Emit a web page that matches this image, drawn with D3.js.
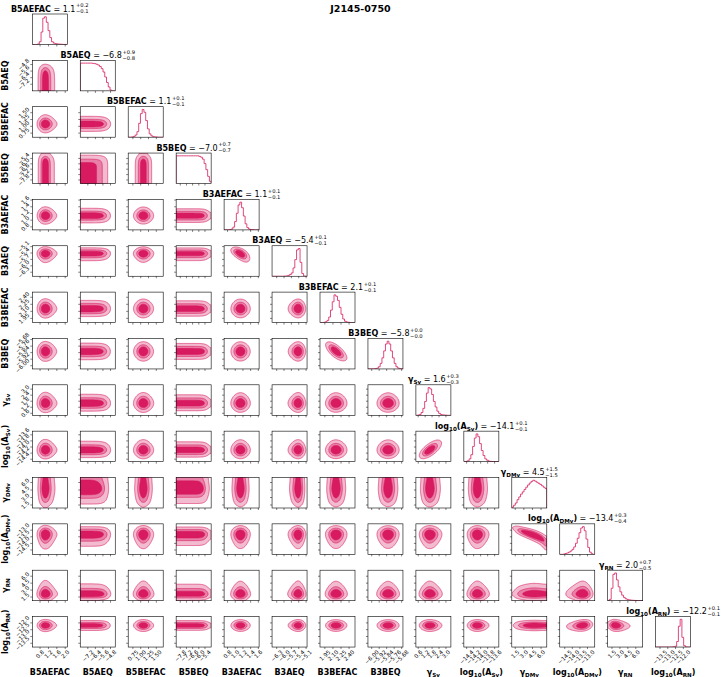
<!DOCTYPE html>
<html>
<head>
<meta charset="utf-8">
<script src="https://cdn.jsdelivr.net/npm/d3@7"></script>
<style>
  body { margin: 0; background: #fff; }
  text { font-family: "DejaVu Sans", sans-serif; }
</style>
</head>
<body>
<div id="chart"></div>
<script>
// --------------------------------------------------------
// DATA
// --------------------------------------------------------
const pulsar = "J2145-0750";

const labels = ["B5AEFAC", "B5AEQ", "B5BEFAC", "B5BEQ", "B3AEFAC", "B3AEQ", "B3BEFAC", "B3BEQ",
  "γ_{Sv}", "log_{10}(A_{Sv})", "γ_{DMv}", "log_{10}(A_{DMv})", "γ_{RN}", "log_{10}(A_{RN})"];

const medians  = [1.1, -6.8, 1.1, -7.0, 1.1, -5.4, 2.1, -5.8, 1.6, -14.1, 4.5, -13.4, 2.0, -12.2];
const errPlus  = [0.2, 0.9, 0.1, 0.7, 0.1, 0.1, 0.1, 0.0, 0.3, 0.1, 1.5, 0.3, 0.7, 0.1];
const errMinus = [0.1, 0.8, 0.1, 0.7, 0.1, 0.1, 0.1, 0.0, 0.3, 0.1, 1.5, 0.4, 0.5, 0.1];

// axis ranges of each parameter
const ranges = [[0.43, 2.1], [-8.0, -4.3], [0.6, 1.72], [-8.2, -4.8], [0.71, 1.62], [-6.49, -5.06],
  [1.86, 2.51], [-6.04, -5.666], [0.4, 3.43], [-14.48, -13.48], [0.9, 7.0], [-14.83, -12.52],
  [0.7, 7.3], [-13.78, -11.53]];

const ticks = [
  [0.8, 1.2, 1.6, 2.0],
  [-7.2, -6.4, -5.6, -4.8],
  [0.75, 1.0, 1.25, 1.5],
  [-7.8, -7.2, -6.6, -6.0, -5.4],
  [0.8, 1.0, 1.2, 1.4, 1.6],
  [-6.3, -6.0, -5.7, -5.4, -5.1],
  [1.95, 2.10, 2.25, 2.40],
  [-6.00, -5.92, -5.84, -5.76, -5.68],
  [0.6, 1.2, 1.8, 2.4, 3.0],
  [-14.4, -14.2, -14.0, -13.8, -13.6],
  [1.5, 3.0, 4.5, 6.0],
  [-14.5, -14.0, -13.5, -13.0],
  [1.5, 3.0, 4.5, 6.0],
  [-13.5, -13.0, -12.5, -12.0]
];
const tickDigits = [1, 1, 2, 1, 1, 1, 2, 2, 1, 1, 1, 1, 1, 1];

// 20-bin marginal histograms (relative heights)
const hist = [
  [0, 0, 0, 0.02, 0.1, 0.45, 0.95, 1.0, 0.8, 0.5, 0.25, 0.1, 0.05, 0.03, 0.02, 0.015, 0.01, 0.005, 0.003, 0.002],
  [1, 1, 1, 1, 1, 1, 1, 0.99, 0.98, 0.96, 0.93, 0.88, 0.8, 0.68, 0.5, 0.3, 0.14, 0.03, 0, 0],
  [0, 0, 0.01, 0.03, 0.08, 0.2, 0.5, 0.85, 1.0, 0.9, 0.6, 0.3, 0.12, 0.05, 0.02, 0.01, 0.005, 0, 0, 0],
  [1, 1, 1, 1, 1, 1, 1, 1, 1, 1, 1, 1, 1, 0.98, 0.95, 0.88, 0.72, 0.5, 0.26, 0.08],
  [0, 0, 0, 0.01, 0.03, 0.1, 0.3, 0.6, 0.9, 1.0, 0.8, 0.5, 0.22, 0.08, 0.03, 0.01, 0.005, 0, 0, 0],
  [0, 0, 0, 0, 0, 0, 0, 0.005, 0.01, 0.03, 0.06, 0.12, 0.3, 0.6, 0.95, 1.0, 0.5, 0.1, 0.01, 0],
  [0, 0, 0.01, 0.03, 0.08, 0.2, 0.45, 0.75, 1.0, 0.95, 0.8, 0.55, 0.3, 0.13, 0.05, 0.02, 0.01, 0, 0, 0],
  [0, 0, 0, 0, 0.01, 0.03, 0.08, 0.2, 0.4, 0.65, 0.9, 1.0, 0.9, 0.65, 0.4, 0.2, 0.08, 0.03, 0.01, 0],
  [0, 0.01, 0.03, 0.1, 0.25, 0.5, 0.8, 1.0, 0.95, 0.75, 0.5, 0.3, 0.15, 0.07, 0.03, 0.015, 0.01, 0.005, 0, 0],
  [0, 0.01, 0.03, 0.1, 0.25, 0.55, 0.85, 1.0, 0.9, 0.65, 0.4, 0.22, 0.1, 0.05, 0.02, 0.01, 0.005, 0, 0, 0],
  [0.03, 0.1, 0.18, 0.3, 0.4, 0.5, 0.58, 0.67, 0.75, 0.83, 0.9, 0.96, 1.0, 0.97, 0.93, 0.89, 0.85, 0.8, 0.75, 0.7],
  [0, 0, 0.01, 0.03, 0.05, 0.08, 0.12, 0.18, 0.27, 0.4, 0.58, 0.78, 0.95, 1.0, 0.85, 0.55, 0.25, 0.08, 0.02, 0],
  [0, 0.05, 0.45, 0.95, 1.0, 0.75, 0.5, 0.32, 0.2, 0.12, 0.07, 0.045, 0.03, 0.02, 0.015, 0.01, 0.008, 0.005, 0.003, 0.002],
  [0, 0, 0, 0, 0, 0, 0, 0, 0, 0.003, 0.01, 0.03, 0.2, 0.75, 1.0, 0.35, 0.05, 0.005, 0, 0]
];

// visible correlations between parameter pairs [i, j, rho]
const correlations = [[4, 5, -0.8], [6, 7, -0.85], [8, 9, 0.85], [10, 11, -0.9], [11, 13, 0.3], [12, 13, -0.2]];

// --------------------------------------------------------
// LAYOUT
// --------------------------------------------------------
const width = 721, height = 677;
const gridLeft = 32.3, gridTop = 14, colStep = 47.95, rowStep = 46.35, pw = 35, ph = 30.5;
const color = "#d81b60";
const masses = [0.95, 0.76, 0.5];      // enclosed probability of each filled level
const fills = [0.3, 0.56, 1.0];
const nP = labels.length;
const N = 50;

const svg = d3.select("#chart").append("svg")
  .attr("width", width).attr("height", height);

svg.append("text")
  .attr("x", 360.5).attr("y", 11.5)
  .attr("text-anchor", "middle")
  .attr("font-weight", "bold").attr("font-size", 9.5)
  .text(pulsar);

// --------------------------------------------------------
// HELPERS
// --------------------------------------------------------
function invNorm(p) {
  const a = [-3.969683028665376e+01, 2.209460984245205e+02, -2.759285104469687e+02, 1.383577518672690e+02, -3.066479806614716e+01, 2.506628277459239e+00];
  const b = [-5.447609879822406e+01, 1.615858368580409e+02, -1.556989798598866e+02, 6.680131188771972e+01, -1.328068155288572e+01];
  const c = [-7.784894002430293e-03, -3.223964580411365e-01, -2.400758277161838e+00, -2.549732539343734e+00, 4.374664141464968e+00, 2.938163982698783e+00];
  const d = [7.784695709041462e-03, 3.224671290700398e-01, 2.445134137142996e+00, 3.754408661907416e+00];
  const pl = 0.02425;
  if (p < pl) {
    const q = Math.sqrt(-2 * Math.log(p));
    return (((((c[0] * q + c[1]) * q + c[2]) * q + c[3]) * q + c[4]) * q + c[5]) / ((((d[0] * q + d[1]) * q + d[2]) * q + d[3]) * q + 1);
  }
  if (p > 1 - pl) {
    const q = Math.sqrt(-2 * Math.log(1 - p));
    return -(((((c[0] * q + c[1]) * q + c[2]) * q + c[3]) * q + c[4]) * q + c[5]) / ((((d[0] * q + d[1]) * q + d[2]) * q + d[3]) * q + 1);
  }
  const q = p - 0.5, r = q * q;
  return (((((a[0] * r + a[1]) * r + a[2]) * r + a[3]) * r + a[4]) * r + a[5]) * q / (((((b[0] * r + b[1]) * r + b[2]) * r + b[3]) * r + b[4]) * r + 1);
}

// marginal density on the grid, from the histogram bins
function gridInfo(k) {
  const [lo, hi] = ranges[k];
  const h = hist[k], nb = h.length, bw = (hi - lo) / nb;
  const dens = d3.range(N).map(a => {
    const x = lo + (a + 0.5) / N * (hi - lo);
    const t = (x - lo) / bw - 0.5;
    const i = Math.floor(t), f = t - i;
    const v0 = h[Math.max(0, Math.min(nb - 1, i))];
    const v1 = h[Math.max(0, Math.min(nb - 1, i + 1))];
    return v0 + (v1 - v0) * f;
  });
  const tot = d3.sum(dens);
  let cum = 0;
  const z = dens.map(d => {
    const F = (cum + d / 2) / tot;
    cum += d;
    return invNorm(Math.min(0.998, Math.max(0.002, F)));
  });
  return { dens, z };
}
const grids = d3.range(nP).map(gridInfo);

function rhoOf(i, j) {
  const c = correlations.find(r => (r[0] === i && r[1] === j) || (r[0] === j && r[1] === i));
  return c ? c[2] : 0;
}

function blur(v, n, passes) {
  let a = Float64Array.from(v);
  const b = new Float64Array(n * n);
  for (let p = 0; p < passes; p++) {
    for (let y = 0; y < n; y++) for (let x = 0; x < n; x++) {
      let s = 0, c = 0;
      for (let d = -1; d <= 1; d++) { const xx = x + d; if (xx >= 0 && xx < n) { s += a[y * n + xx]; c++; } }
      b[y * n + x] = s / c;
    }
    for (let y = 0; y < n; y++) for (let x = 0; x < n; x++) {
      let s = 0, c = 0;
      for (let d = -1; d <= 1; d++) { const yy = y + d; if (yy >= 0 && yy < n) { s += b[yy * n + x]; c++; } }
      a[y * n + x] = s / c;
    }
  }
  // round off float noise so flat plateaus stay flat
  return a.map(x => Math.round(x * 1e9) / 1e9);
}

// text with _{..} subscripts; returns true if it ends shifted down
function richText(sel, str, size) {
  const parts = str.split(/(_\{[^}]*\})/).filter(s => s);
  let shifted = false;
  parts.forEach(p => {
    if (p.startsWith("_{")) {
      sel.append("tspan").attr("font-size", size * 0.7).attr("dy", size * 0.25).text(p.slice(2, -1));
      shifted = true;
    } else {
      const t = sel.append("tspan").attr("font-size", size);
      if (shifted) { t.attr("dy", -size * 0.25); shifted = false; }
      t.text(p);
    }
  });
  return shifted;
}

const fmt1 = d3.format(".1f");
const fmtPlus = d3.format("+.1f");
const tickFont = 5.6;

// --------------------------------------------------------
// PANELS
// --------------------------------------------------------
for (let i = 0; i < nP; i++) {
  for (let j = 0; j <= i; j++) {
    const x0 = gridLeft + j * colStep, y0 = gridTop + i * rowStep;
    const xs = d3.scaleLinear().domain(ranges[j]).range([x0, x0 + pw]);
    const g = svg.append("g");
    const clipId = "clip-" + i + "-" + j;
    g.append("clipPath").attr("id", clipId)
      .append("rect").attr("x", x0).attr("y", y0).attr("width", pw).attr("height", ph);
    const inner = g.append("g").attr("clip-path", "url(#" + clipId + ")");

    if (i === j) {
      // 1D histogram
      const h = hist[i];
      const edges = d3.range(h.length + 1).map(e => ranges[i][0] + e * (ranges[i][1] - ranges[i][0]) / h.length);
      const ys = d3.scaleLinear().domain([0, d3.max(h) * 1.1]).range([y0 + ph, y0]);
      const pts = [[edges[0], 0]];
      h.forEach((v, k) => { pts.push([edges[k], v]); pts.push([edges[k + 1], v]); });
      pts.push([edges[h.length], 0]);
      inner.append("path")
        .attr("d", d3.line().x(d => xs(d[0])).y(d => ys(d[1]))(pts))
        .attr("fill", "none").attr("stroke", color).attr("stroke-width", 0.8);

      // title with median and errors
      const cx = x0 + pw / 2, base = y0 - 2.5;
      const tt = g.append("text").attr("y", base).attr("font-weight", "bold");
      const shifted = richText(tt, labels[i], 8);
      tt.append("tspan").attr("font-weight", "normal").attr("font-size", 8)
        .attr("dy", shifted ? -2 : 0).text(" = " + fmt1(medians[i]));
      const sup = g.append("text").attr("y", y0 - 6.6).attr("font-size", 5.2).text(fmtPlus(errPlus[i]));
      const sub = g.append("text").attr("y", y0 - 0.6).attr("font-size", 5.2).text("−" + fmt1(errMinus[i]));
      const mainW = tt.node().getComputedTextLength();
      const scriptW = Math.max(sup.node().getComputedTextLength(), sub.node().getComputedTextLength());
      const start = cx - (mainW + 0.6 + scriptW) / 2;
      tt.attr("x", start);
      sup.attr("x", start + mainW + 0.6);
      sub.attr("x", start + mainW + 0.6);
    } else {
      // 2D density contours
      const ys = d3.scaleLinear().domain(ranges[i]).range([y0 + ph, y0]);
      const gx = grids[j], gy = grids[i];
      const rho = rhoOf(i, j);
      const vals = new Float64Array(N * N);
      for (let b = 0; b < N; b++) for (let a = 0; a < N; a++) {
        let v = gx.dens[a] * gy.dens[b];
        if (rho !== 0) {
          const z1 = gx.z[a], z2 = gy.z[b];
          v *= Math.exp(-(rho * rho * (z1 * z1 + z2 * z2) - 2 * rho * z1 * z2) / (2 * (1 - rho * rho))) / Math.sqrt(1 - rho * rho);
        }
        vals[a + b * N] = v;
      }
      const sm = blur(vals, N, 12);
      const sorted = Array.from(sm).sort((p, q) => q - p);
      const total = d3.sum(sorted);
      const levels = masses.map(m => {
        let c = 0;
        for (let k = 0; k < sorted.length; k++) { c += sorted[k]; if (c >= m * total) return sorted[k]; }
        return sorted[sorted.length - 1];
      });
      const proj = d3.geoPath(d3.geoTransform({
        point: function (px, py) {
          this.stream.point(
            xs(ranges[j][0] + px / N * (ranges[j][1] - ranges[j][0])),
            ys(ranges[i][0] + py / N * (ranges[i][1] - ranges[i][0]))
          );
        }
      }));
      const gen = d3.contours().size([N, N]);
      const shapes = levels.map(v => gen.contour(sm, v));
      shapes.forEach((s, k) => {
        inner.append("path").attr("d", proj(s))
          .attr("fill", d3.interpolateRgb("#ffffff", color)(fills[k])).attr("stroke", "none");
      });
      shapes.forEach(s => {
        inner.append("path").attr("d", proj(s))
          .attr("fill", "none").attr("stroke", color).attr("stroke-width", 0.6);
      });

      // y ticks
      ticks[i].forEach(t => {
        g.append("line").attr("x1", x0).attr("x2", x0 - 2).attr("y1", ys(t)).attr("y2", ys(t))
          .attr("stroke", "#000").attr("stroke-width", 0.5);
      });
      if (j === 0) {
        const f = d3.format("." + tickDigits[i] + "f");
        ticks[i].forEach(t => {
          const tx = g.append("text").attr("font-size", tickFont)
            .attr("text-anchor", "middle").attr("dominant-baseline", "central").text(f(t));
          const w = tx.node().getComputedTextLength();
          const bw = (w + tickFont * 0.72) * 0.7071;
          tx.attr("transform", "translate(" + (x0 - 2.5 - bw / 2) + "," + ys(t) + ") rotate(-45)");
        });
        const yl = g.append("text").attr("font-weight", "bold").attr("text-anchor", "middle")
          .attr("transform", "translate(7.8," + (y0 + ph / 2) + ") rotate(-90)");
        richText(yl, labels[i], 8);
      }
    }

    // frame
    g.append("rect").attr("x", x0).attr("y", y0).attr("width", pw).attr("height", ph)
      .attr("fill", "none").attr("stroke", "#000").attr("stroke-width", 0.6);

    // x ticks
    ticks[j].forEach(t => {
      g.append("line").attr("x1", xs(t)).attr("x2", xs(t)).attr("y1", y0 + ph).attr("y2", y0 + ph + 2)
        .attr("stroke", "#000").attr("stroke-width", 0.5);
    });
    if (i === nP - 1) {
      const f = d3.format("." + tickDigits[j] + "f");
      ticks[j].forEach(t => {
        const tx = g.append("text").attr("font-size", tickFont)
          .attr("text-anchor", "middle").attr("dominant-baseline", "central").text(f(t));
        const w = tx.node().getComputedTextLength();
        const bh = (w + tickFont * 0.72) * 0.7071;
        tx.attr("transform", "translate(" + xs(t) + "," + (y0 + ph + 2.5 + bh / 2) + ") rotate(-45)");
      });
      const xl = g.append("text").attr("font-weight", "bold").attr("text-anchor", "middle")
        .attr("x", x0 + pw / 2).attr("y", 675);
      richText(xl, labels[j], 8);
    }
  }
}
</script>
</body>
</html>
